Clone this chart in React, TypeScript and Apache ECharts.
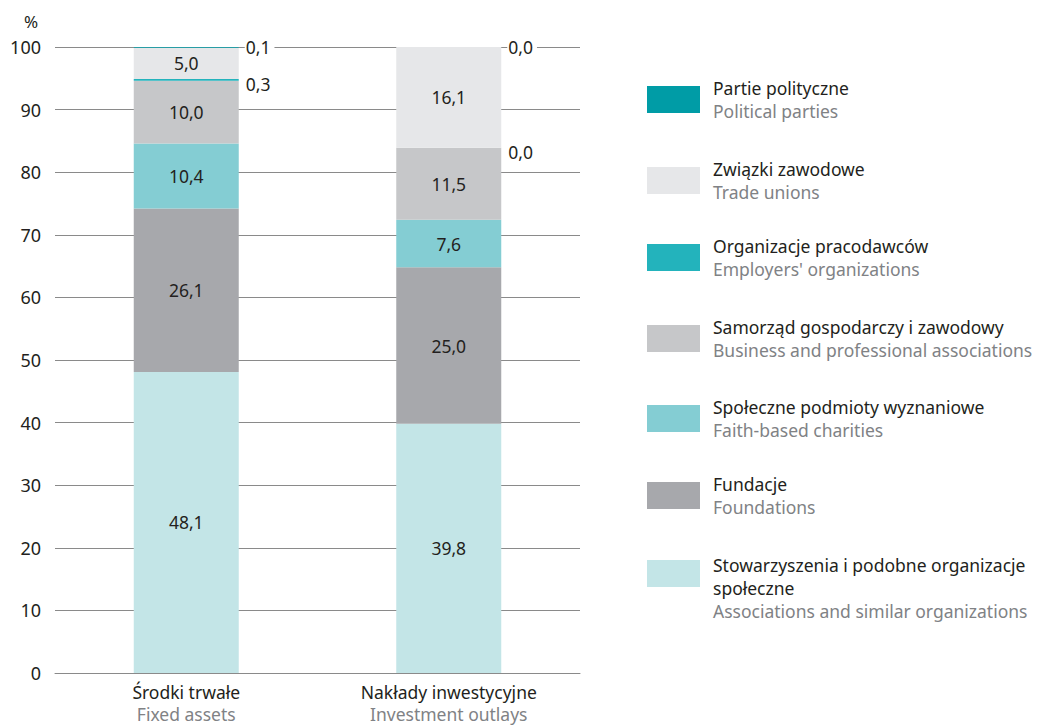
import React, { useEffect, useRef } from "react";
import * as echarts from "echarts";

const categoriesPl = ["Środki trwałe", "Nakłady inwestycyjne"];
const categoriesEn = ["Fixed assets", "Investment outlays"];

// bottom to top stacking order
const seriesNamesPl = [
  "Stowarzyszenia i podobne organizacje społeczne",
  "Fundacje",
  "Społeczne podmioty wyznaniowe",
  "Samorząd gospodarczy i zawodowy",
  "Organizacje pracodawców",
  "Związki zawodowe",
  "Partie polityczne",
];
const seriesNamesEn = [
  "Associations and similar organizations",
  "Foundations",
  "Faith-based charities",
  "Business and professional associations",
  "Employers' organizations",
  "Trade unions",
  "Political parties",
];
const seriesColors = ["#c3e5e7", "#a7a8ac", "#84cdd3", "#c6c7c9", "#23b3bc", "#e6e7e9", "#009ca6"];

const stowarzyszenia = [48.1, 39.8];
const fundacje = [26.1, 25.0];
const spoleczne = [10.4, 7.6];
const samorzad = [10.0, 11.5];
const pracodawcy = [0.3, 0.0];
const zwiazki = [5.0, 16.1];
const partie = [0.1, 0.0];

const seriesValues = [stowarzyszenia, fundacje, spoleczne, samorzad, pracodawcy, zwiazki, partie];
const outsideLabel = [false, false, false, false, true, false, true];

const yTicks = [0, 10, 20, 30, 40, 50, 60, 70, 80, 90, 100];

const FONT = "'Noto Sans', sans-serif";
const DARK = "#231f20";
const GREY = "#808285";

const fmt = (v: number) => v.toFixed(1).replace(".", ",");

// legend item icon centres (px from top), top item first
const legendIconCentres = [99.5, 180.5, 257.5, 338.5, 418.5, 495.5];

export default function App() {
  const ref = useRef<HTMLDivElement>(null);
  useEffect(() => {
    if (!ref.current) return;
    const chart = echarts.init(ref.current, null, { renderer: "svg" });

    const series = seriesValues.map((vals, i) => ({
      name: seriesNamesPl[i],
      type: "bar",
      stack: "total",
      barWidth: "40%",
      data: vals,
      itemStyle: { color: seriesColors[i] },
      label: outsideLabel[i]
        ? {
            show: true,
            position: "right",
            distance: 6,
            formatter: (p: any) => fmt(p.value),
            color: DARK,
            fontFamily: FONT,
            fontSize: 17.5,
            backgroundColor: "#ffffff",
            padding: [0, 4, 0, 1],
            offset: i === 4 ? [0, 4] : [0, 0],
          }
        : {
            show: true,
            position: "inside",
            formatter: (p: any) => fmt(p.value),
            color: DARK,
            fontFamily: FONT,
            fontSize: 17.5,
          },
    }));

    const legendRich = {
      a: { fontFamily: FONT, fontSize: 17.5, color: DARK, lineHeight: 23 },
      b: { fontFamily: FONT, fontSize: 17.5, color: GREY, lineHeight: 23 },
      sp: { fontSize: 10, lineHeight: 29 },
    };

    const orderTopDown = seriesNamesPl.slice(1).reverse();
    const legends: any[] = orderTopDown.map((name, k) => ({
      orient: "vertical",
      left: 647,
      top: legendIconCentres[k] - 20.5,
      padding: 0,
      itemWidth: 53,
      itemHeight: 27,
      itemGap: 0,
      icon: "rect",
      selectedMode: false,
      data: [name],
      formatter: (n: string) => {
        const i = seriesNamesPl.indexOf(n);
        return `{a|${n}}\n{b|${seriesNamesEn[i]}}`;
      },
      textStyle: { rich: legendRich, padding: [0, 0, 0, 8] },
    }));
    legends.push({
      orient: "vertical",
      left: 647,
      top: 534,
      padding: 0,
      itemWidth: 53,
      itemHeight: 27,
      icon: "rect",
      selectedMode: false,
      data: [seriesNamesPl[0]],
      formatter: () =>
        `{sp| }\n{a|Stowarzyszenia i podobne organizacje}\n{a|społeczne}\n{b|${seriesNamesEn[0]}}`,
      textStyle: { rich: legendRich, padding: [0, 0, 0, 8] },
    });

    const option: any = {
      animation: false,
      title: {
        text: "%",
        left: 19,
        top: 8,
        textStyle: { fontFamily: FONT, fontSize: 17, fontWeight: "normal", color: DARK },
      },
      grid: { left: 55, top: 47, width: 525, height: 626, containLabel: false },
      legend: legends,
      xAxis: {
        type: "category",
        data: categoriesPl,
        axisTick: { show: false },
        axisLine: { lineStyle: { color: "#8a8a8a", width: 1 } },
        axisLabel: {
          margin: 8,
          formatter: (v: string) => {
            const i = categoriesPl.indexOf(v);
            return `{a|${v}}\n{b|${categoriesEn[i]}}`;
          },
          rich: {
            a: { fontFamily: FONT, fontSize: 17.5, color: DARK, lineHeight: 22 },
            b: { fontFamily: FONT, fontSize: 17.5, color: GREY, lineHeight: 22 },
          },
        },
      },
      yAxis: {
        type: "value",
        min: yTicks[0],
        max: yTicks[yTicks.length - 1],
        interval: 10,
        axisLine: { show: false },
        axisTick: { show: false },
        splitLine: { lineStyle: { color: "#8a8a8a", width: 1 } },
        axisLabel: {
          margin: 14,
          fontFamily: FONT,
          fontSize: 18,
          color: DARK,
        },
      },
      series,
    };
    chart.setOption(option);
    return () => chart.dispose();
  }, []);
  return (
    <div style={{ position: "fixed", left: 0, top: 0, width: 1053, height: 728, background: "#fff" }}>
      <div ref={ref} style={{ width: 1053, height: 728 }} />
    </div>
  );
}
